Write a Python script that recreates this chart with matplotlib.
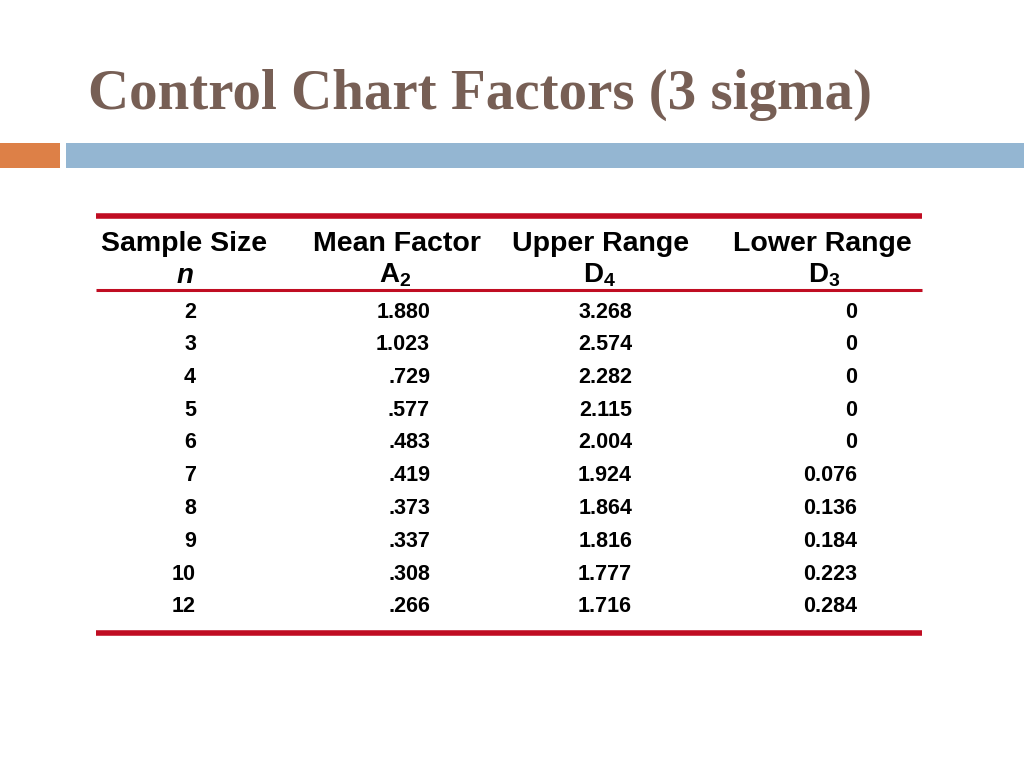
import matplotlib.pyplot as plt

# 表格数据
sample_n = [2, 3, 4, 5, 6, 7, 8, 9, 10, 12]
mean_a2 = ['1.880', '1.023', '.729', '.577', '.483', '.419', '.373', '.337', '.308', '.266']
upper_d4 = ['3.268', '2.574', '2.282', '2.115', '2.004', '1.924', '1.864', '1.816', '1.777', '1.716']
lower_d3 = ['0', '0', '0', '0', '0', '0.076', '0.136', '0.184', '0.223', '0.284']
headers = ['Sample Size', 'Mean Factor', 'Upper Range', 'Lower Range']
symbols = [r'$\mathbfit{n}$', r'$\mathbf{A_2}$', r'$\mathbf{D_4}$', r'$\mathbf{D_3}$']

plt.rcParams['mathtext.fontset'] = 'custom'
plt.rcParams['mathtext.rm'] = 'Liberation Sans'
plt.rcParams['mathtext.bf'] = 'Liberation Sans:bold'
plt.rcParams['mathtext.bfit'] = 'Liberation Sans:bold:italic'
plt.rcParams['mathtext.it'] = 'Liberation Sans:italic'

W, H = 1024, 768
fig = plt.figure(figsize=(W / 100, H / 100), dpi=100)
ax = fig.add_axes([0, 0, 1, 1])
ax.set_xlim(0, W)
ax.set_ylim(H, 0)
ax.axis('off')

red = '#c00d22'

# 标题
ax.text(88, 95, 'Control Chart Factors (3 sigma)', fontsize=41, fontweight='bold',
        family='Liberation Serif', color='#775f55', ha='left', va='center')

# 顶部色条
ax.add_patch(plt.Rectangle((0, 143), 60, 25, color='#dd8047', lw=0))
ax.add_patch(plt.Rectangle((66, 143), W - 66, 25, color='#94b6d2', lw=0))

# 表格线
ax.plot([96, 922], [216, 216], color=red, lw=4, solid_capstyle='butt')
ax.plot([96, 922], [290, 290], color=red, lw=2.2, solid_capstyle='butt')
ax.plot([96, 922], [633, 633], color=red, lw=4, solid_capstyle='butt')

hdr_kw = dict(fontsize=20.5, fontweight='bold', family='Liberation Sans', color='black', va='center')
ax.text(101, 244, headers[0], ha='left', **hdr_kw)
for x, h in zip([397, 601, 822], headers[1:]):
    ax.text(x, 244, h, ha='center', **hdr_kw)
for x, s in zip([185, 395, 600, 824], symbols):
    ax.text(x, 275, s, ha='center', fontsize=20, color='black', va='center')

# 数据行
row_kw = dict(fontsize=15.5, fontweight='bold', family='Liberation Sans', color='black',
              va='center', ha='right')
y0, dy = 312, 32.75
for i in range(len(sample_n)):
    y = y0 + i * dy
    ax.text(196, y, str(sample_n[i]), **row_kw)
    ax.text(430, y, mean_a2[i], **row_kw)
    ax.text(632, y, upper_d4[i], **row_kw)
    ax.text(857, y, lower_d3[i], **row_kw)

fig.savefig('out.png', dpi=100)
